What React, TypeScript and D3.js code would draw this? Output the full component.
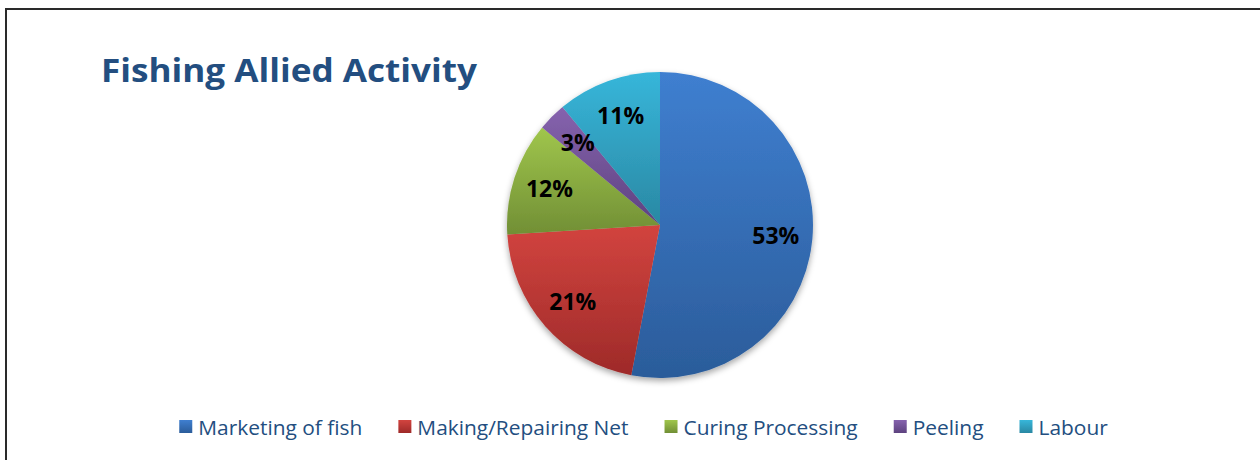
import React, { useEffect, useRef } from "react";
import * as d3 from "d3";

const categories = ["Marketing of fish", "Making/Repairing Net", "Curing Processing", "Peeling", "Labour"];
const values = [53, 21, 12, 3, 11];
const labels = ["53%", "21%", "12%", "3%", "11%"];
const topColors = ["#3f7fd0", "#d2443f", "#a0c64c", "#8663ae", "#37b6da"];
const bottomColors = ["#2b5c9a", "#9e2a29", "#718f35", "#5d427f", "#2a88a3"];
const title = "Fishing Allied Activity";

const W = 1260;
const H = 460;
const FONT = "'Open Sans', Lato, sans-serif";

export default function App() {
  const ref = useRef<SVGSVGElement>(null);

  useEffect(() => {
    const svg = d3.select(ref.current);
    svg.selectAll("*").remove();

    const defs = svg.append("defs");
    const flt = defs.append("filter").attr("id", "shadow").attr("x", "-20%").attr("y", "-20%").attr("width", "140%").attr("height", "140%");
    flt.append("feDropShadow").attr("dx", 0).attr("dy", 3).attr("stdDeviation", 3).attr("flood-color", "#000").attr("flood-opacity", 0.35);

    categories.forEach((_, i) => {
      const g = defs.append("linearGradient").attr("id", `grad${i}`).attr("x1", 0).attr("y1", 0).attr("x2", 0).attr("y2", 1);
      g.append("stop").attr("offset", "0%").attr("stop-color", topColors[i]);
      g.append("stop").attr("offset", "100%").attr("stop-color", bottomColors[i]);
    });

    // frame
    svg.append("rect")
      .attr("x", 6).attr("y", 9).attr("width", 1400).attr("height", 600)
      .attr("fill", "#fff").attr("stroke", "#2a2a2a").attr("stroke-width", 2);

    // title
    svg.append("text")
      .attr("x", 101).attr("y", 82)
      .attr("font-family", FONT)
      .attr("font-weight", 700)
      .attr("font-size", 33)
      .attr("fill", "#234e80")
      .attr("textLength", 376)
      .attr("lengthAdjust", "spacingAndGlyphs")
      .text(title);

    const cx = 660, cy = 225, r = 153;
    const pie = d3.pie<number>().sort(null).value((d) => d);
    const arcs = pie(values);
    const arc = d3.arc<d3.PieArcDatum<number>>().innerRadius(0).outerRadius(r);
    const labelArc = d3.arc<d3.PieArcDatum<number>>().innerRadius(r * 0.76).outerRadius(r * 0.76);

    const pg = svg.append("g").attr("transform", `translate(${cx},${cy})`);
    const slices = pg.append("g").attr("filter", "url(#shadow)");
    slices.selectAll("path").data(arcs).enter().append("path")
      .attr("d", (d) => arc(d) as string)
      .attr("fill", (_, i) => `url(#grad${i})`);

    pg.selectAll("text.lbl").data(arcs).enter().append("text")
      .attr("class", "lbl")
      .attr("x", (d) => labelArc.centroid(d)[0])
      .attr("y", (d) => labelArc.centroid(d)[1] + 8)
      .attr("text-anchor", "middle")
      .attr("font-family", FONT)
      .attr("font-weight", 700)
      .attr("font-size", 23)
      .attr("fill", "#000")
      .text((_, i) => labels[i]);

    // legend
    const lg = svg.append("g");
    const items = lg.selectAll("g.item").data(categories).enter().append("g").attr("class", "item");
    items.append("rect").attr("width", 13).attr("height", 13).attr("y", 420)
      .attr("fill", (_, i) => `url(#grad${i})`);
    const txt = items.append("text")
      .attr("y", 435)
      .attr("font-family", FONT)
      .attr("font-size", 20)
      .attr("fill", "#234e80")
      .text((d) => d);
    const widths: number[] = [];
    txt.each(function () { widths.push((this as SVGTextElement).getComputedTextLength() * 1.045); });
    txt.attr("textLength", (_, i) => widths[i]).attr("lengthAdjust", "spacingAndGlyphs");
    const itemW = widths.map((w) => 13 + 6 + w);
    const gap = 36;
    const total = d3.sum(itemW) + gap * (itemW.length - 1);
    let x = 643.5 - total / 2;
    items.each(function (_, i) {
      d3.select(this).attr("transform", `translate(${x},0)`);
      d3.select(this).select("text").attr("x", 19);
      x += itemW[i] + gap;
    });
  }, []);

  return (
    <svg ref={ref} width={W} height={H} style={{ position: "fixed", left: 0, top: 0, background: "#fff" }} />
  );
}
